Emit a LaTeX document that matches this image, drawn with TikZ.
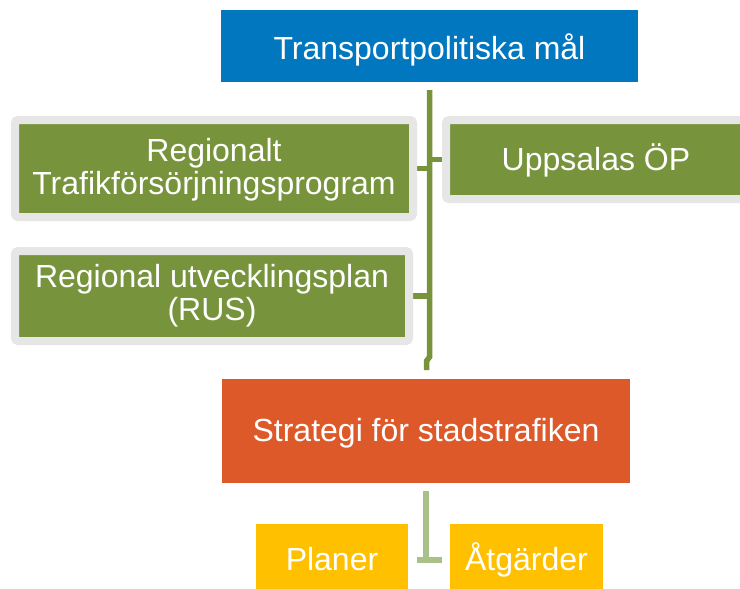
\documentclass[tikz,border=0pt]{standalone}
\usepackage{fontspec}
\setmainfont{Liberation Sans}
\usetikzlibrary{backgrounds}
\definecolor{topblue}{RGB}{0,119,190}
\definecolor{stratorange}{RGB}{222,89,41}
\definecolor{boxgreen}{RGB}{119,147,60}
\definecolor{framegray}{RGB}{230,230,230}
\definecolor{lightgreen}{RGB}{169,192,136}
\definecolor{boxyellow}{RGB}{255,192,0}
\newcommand{\lowertext}[2]{\raisebox{-#1}[\height][\depth]{#2}}
\newcommand{\twolines}[2]{\begin{tabular}{@{}c@{}}#1\\#2\end{tabular}}
\tikzset{
  plainbox/.style={text=white, align=center, inner sep=0pt,
    font=\fontsize{32}{32}\selectfont},
  bluebox/.style={plainbox, fill=topblue},
  orangebox/.style={plainbox, fill=stratorange},
  yellowbox/.style={plainbox, fill=boxyellow},
  greenbox/.style={plainbox, fill=boxgreen, draw=framegray, line width=8pt, rounded corners=3pt},
  trunk/.style={draw=boxgreen, line width=5.5pt},
  lightline/.style={draw=lightgreen, line width=6pt},
}
\begin{document}
\begin{tikzpicture}[x=1pt,y=-1pt]
\clip (0,0) rectangle (740,589);

\node[bluebox, minimum width=417pt, minimum height=72pt] (top) at (429.5,46) {\lowertext{4pt}{Transportpolitiska mål}};
\node[greenbox, minimum width=398pt, minimum height=97pt] (rtp) at (214,168.5) {\lowertext{2.5pt}{\twolines{Regionalt}{Trafikförsörjningsprogram}}};
\node[greenbox, minimum width=394pt, minimum height=90pt] (rus) at (212,296) {\lowertext{1.5pt}{\twolines{Regional utvecklingsplan}{(RUS)}}};
\node[greenbox, minimum width=300pt, minimum height=79pt] (op) at (596,159.5) {\lowertext{1pt}{Uppsalas ÖP}};
\node[orangebox, minimum width=408pt, minimum height=104pt] (strat) at (426,431) {\lowertext{2pt}{Strategi för stadstrafiken}};
\node[yellowbox, minimum width=152pt, minimum height=68pt] (planer) at (332,558) {\lowertext{1.5pt}{Planer}};
\node[yellowbox, minimum width=153pt, minimum height=68pt] (atg) at (526.5,558) {\lowertext{2pt}{Åtgärder}};

\coordinate (tstart) at (429.5,90);
\coordinate (jog1) at (429.5,357);
\coordinate (jog2) at (426.5,361);
\coordinate (tend) at (426.5,370);

\begin{pgfonlayer}{background}
\draw[trunk] (tstart) -- (jog1) -- (jog2) -- (tend);
\draw[trunk] (op.west) -- (op.west -| tstart);
\draw[trunk] (rtp.east) -- (rtp.east -| tstart);
\draw[trunk] (rus.east) -- (rus.east -| tstart);
\end{pgfonlayer}

\coordinate (lstart) at (426,491);
\coordinate (lmid) at (426,561);
\coordinate (bl) at (417,560);
\coordinate (br) at (442,560);
\draw[lightline] (lstart) -- (lmid);
\draw[lightline] (bl) -- (br);
\end{tikzpicture}
\end{document}
